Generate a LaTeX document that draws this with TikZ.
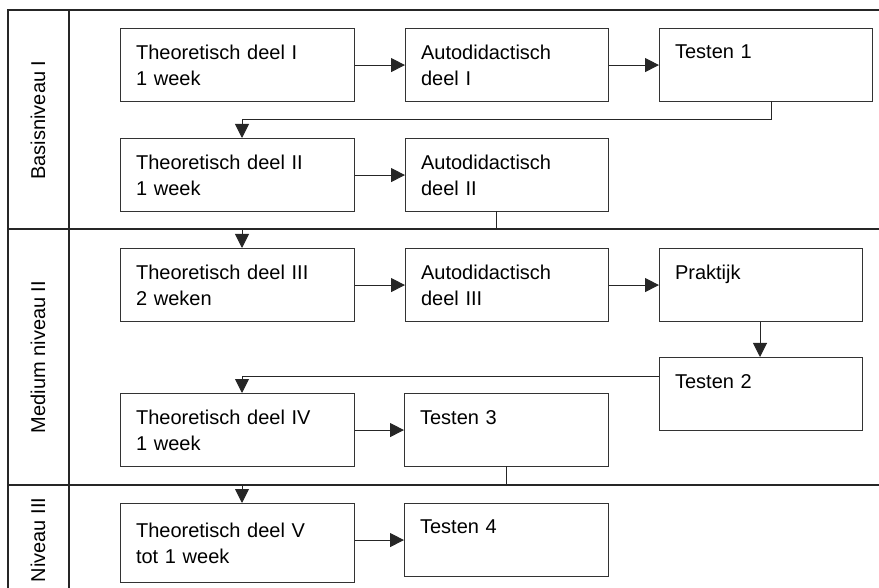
\documentclass[tikz,border=0pt]{standalone}
\usepackage{fontspec}
\setmainfont{Liberation Sans}
\usetikzlibrary{arrows.meta}
\begin{document}
\begin{tikzpicture}[x=1pt,y=-1pt,
  frame/.style={line width=1.4pt,black!85},
  box/.style={draw=black!80,line width=1.1pt,rectangle,anchor=north west,
    font=\fontsize{20}{26}\selectfont,align=left,inner xsep=15.5pt,inner ysep=0pt},
  lab/.style={font=\fontsize{20}{24}\selectfont,rotate=90},
  conn/.style={draw=black!85,line width=1pt},
  arr/.style={conn,-{Triangle[length=14pt,width=14pt]}}]
\useasboundingbox (0,0) rectangle (879,588);
% frame
\draw[frame] (8,600) -- (8,10) -- (890,10);
\draw[frame] (69,10) -- (69,600);
\draw[frame] (8,229) -- (890,229);
\draw[frame] (8,485) -- (890,485);
\node[lab] (l1) at (38,120) {Basisniveau I};
\node[lab] (l2) at (38,357) {Medium niveau II};
\node[lab] (l3) at (38,540) {Niveau III};
% boxes
\newcommand{\mybox}[6]{\node[box,text width=#4-31pt,minimum width=#4,minimum height=#5] (#1) at (#2,#3) {#6};}
\mybox{t1}{120}{28}{234}{73}{Theoretisch deel I\\1 week}
\mybox{a1}{405}{28}{203}{73}{Autodidactisch\\deel I}
\mybox{x1}{659}{28}{213}{73}{Testen 1\\\mbox{}}
\mybox{t2}{120}{138}{234}{73}{Theoretisch deel II\\1 week}
\mybox{a2}{405}{138}{203}{73}{Autodidactisch\\deel II}
\mybox{t3}{120}{248}{234}{73}{Theoretisch deel III\\2 weken}
\mybox{a3}{405}{248}{203}{73}{Autodidactisch\\deel III}
\mybox{p}{659}{248}{203}{73}{Praktijk\\\mbox{}}
\mybox{x2}{659}{357}{203}{73}{Testen 2\\\mbox{}}
\mybox{t4}{120}{393}{234}{73}{Theoretisch deel IV\\1 week}
\mybox{x3}{404}{393}{204}{73}{Testen 3\\\mbox{}}
\mybox{t5}{120}{503}{234}{79}{Theoretisch deel V\\tot 1 week}
\mybox{x4}{404}{503}{204}{73}{Testen 4\\\mbox{}}
% coordinates
\coordinate (c1a) at (771,101); \coordinate (c1b) at (771,120);
\coordinate (c1c) at (242,120); \coordinate (c1d) at (242,138);
\coordinate (c2a) at (496,211); \coordinate (c2b) at (496,229);
\coordinate (c2c) at (242,229); \coordinate (c2d) at (242,248);
\coordinate (c3c) at (242,376); \coordinate (c3d) at (242,393);
\coordinate (c4a) at (506,466); \coordinate (c4b) at (506,485);
\coordinate (c4c) at (242,485); \coordinate (c4d) at (242,503);
% connectors
\draw[arr] (t1.east) -- (a1.west);
\draw[arr] (a1.east) -- (x1.west);
\draw[arr] (c1a) -- (c1b) -- (c1c) -- (c1d);
\draw[arr] (t2.east) -- (a2.west);
\draw[arr] (c2a) -- (c2b) -- (c2c) -- (c2d);
\draw[arr] (t3.east) -- (a3.west);
\draw[arr] (a3.east) -- (p.west);
\draw[arr] (p.south -| 760,0) -- (x2.north -| 760,0);
\draw[arr] (x2.west |- 0,376) -- (c3c) -- (c3d);
\draw[arr] (t4.east) -- (x3.west);
\draw[arr] (c4a) -- (c4b) -- (c4c) -- (c4d);
\draw[arr] (t5.east |- x4.west) -- (x4.west);
\end{tikzpicture}
\end{document}
